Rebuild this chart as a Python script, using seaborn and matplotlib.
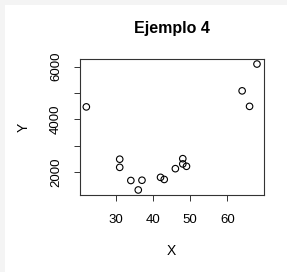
import matplotlib

matplotlib.use("Agg")
import matplotlib.pyplot as plt
import seaborn as sns
from matplotlib.patches import Rectangle

x_vals = [22, 31, 31, 34, 36, 37, 42, 43, 46, 48, 48, 49, 64, 66, 68]
y_vals = [4470, 2480, 2170, 1670, 1310, 1680, 1790, 1710, 2120, 2500, 2300, 2210, 5080, 4490, 6100]
x_ticks = [30, 40, 50, 60]
y_ticks = [2000, 3000, 4000, 5000, 6000]
y_labels = ["2000", "", "4000", "", "6000"]

sns.set_theme(style="white")
plt.rcParams["font.family"] = ["Liberation Sans", "DejaVu Sans"]
plt.rcParams["text.color"] = "black"
plt.rcParams["axes.labelcolor"] = "black"
plt.rcParams["xtick.color"] = "black"
plt.rcParams["ytick.color"] = "black"

fig = plt.figure(figsize=(2.87, 2.72), dpi=100)
fig.patch.set_facecolor("white")
# light grey strip at top/left like the source screenshot
fig.patches.append(Rectangle((0, 0), 5 / 287, 1, transform=fig.transFigure,
                             facecolor="#f4f4f4", edgecolor="none", zorder=0))
fig.patches.append(Rectangle((0, 1 - 5 / 272), 1, 5 / 272, transform=fig.transFigure,
                             facecolor="#f4f4f4", edgecolor="none", zorder=0))

ax = fig.add_axes([79.5 / 287, 1 - 195 / 272, (263.8 - 79.5) / 287, (195 - 59) / 272])
sns.scatterplot(x=x_vals, y=y_vals, ax=ax, marker="o", s=22,
                facecolor="none", edgecolor="black", linewidth=0.8)

# R-style 4% padding
xr = max(x_vals) - min(x_vals)
yr = max(y_vals) - min(y_vals)
ax.set_xlim(min(x_vals) - 0.04 * xr, max(x_vals) + 0.04 * xr)
ax.set_ylim(min(y_vals) - 0.04 * yr, max(y_vals) + 0.04 * yr)

ax.set_xticks(x_ticks)
ax.set_xticklabels([str(t) for t in x_ticks], fontsize=9.5)
ax.set_yticks(y_ticks)
ax.set_yticklabels(y_labels, fontsize=9.5, rotation=90, va="center")
ax.tick_params(axis="both", direction="out", length=4.5, width=0.7, color="#333333",
               bottom=True, left=True)
ax.tick_params(axis="x", pad=9)
ax.tick_params(axis="y", pad=8)

for s in ax.spines.values():
    s.set_color("#333333")
    s.set_linewidth(0.8)

ax.set_title("Ejemplo 4", fontsize=11.5, fontweight="bold", pad=19)
ax.set_xlabel("X", fontsize=10, labelpad=13)
ax.set_ylabel("Y", fontsize=10, labelpad=14)

fig.savefig("out.png", dpi=100)
